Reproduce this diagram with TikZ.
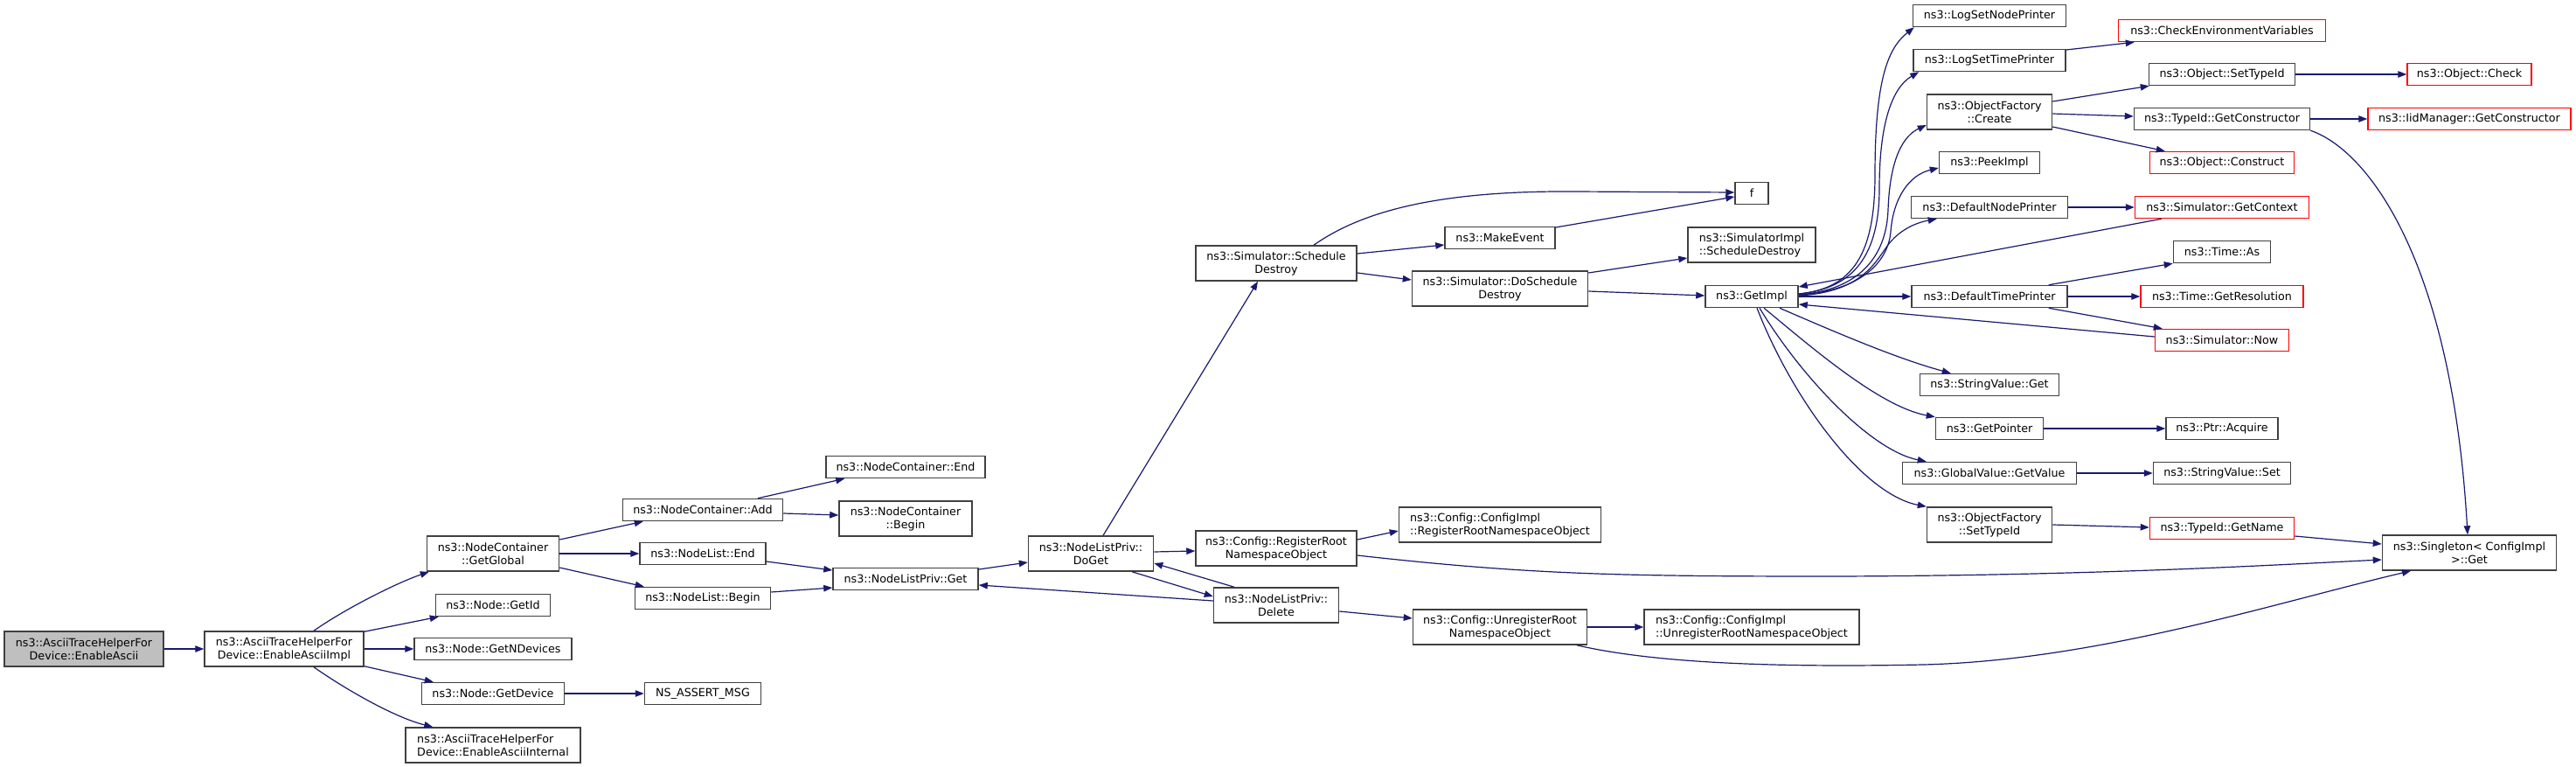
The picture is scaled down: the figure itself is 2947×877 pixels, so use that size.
\documentclass[tikz,border=0pt]{standalone}
\usepackage{fontspec}
\setmainfont{DejaVu Sans}
\usetikzlibrary{arrows.meta,calc}
\definecolor{edgeblue}{HTML}{191970}
\definecolor{bordergrey}{HTML}{404040}
\definecolor{rootgrey}{HTML}{BFBFBF}
\tikzset{
  fn/.style={draw=bordergrey, line width=1.5pt, fill=white, minimum height=25pt, inner sep=0pt, align=center, font=\fontsize{12.7}{15}\selectfont},
  twol/.style={minimum height=40pt},
  redfn/.style={fn, draw=red},
  rootfn/.style={fn, fill=rootgrey},
  lft/.style={align=left},
  call/.style={draw=edgeblue, line width=1.2pt, -{Triangle[length=10pt,width=7.5pt]}, fill=none},
}
\begin{document}
\begin{tikzpicture}[x=1pt,y=-1pt]
\fill[white] (0,0) rectangle (2947,877);
\useasboundingbox (0,0) rectangle (2947,877);
% column 1-2
\node[rootfn, twol, minimum width=182pt] (n1) at (96,742) {ns3::AsciiTraceHelperFor\\Device::EnableAscii};
\node[fn, twol, minimum width=182pt] (n2) at (325,742) {ns3::AsciiTraceHelperFor\\Device::EnableAsciiImpl};
% column 3
\node[fn, twol, minimum width=151pt] (GetGlobal) at (564,633) {ns3::NodeContainer\\::GetGlobal};
\node[fn, minimum width=131pt] (GetId) at (564,692) {ns3::Node::GetId};
\node[fn, minimum width=180pt] (GetNDevices) at (564,742) {ns3::Node::GetNDevices};
\node[fn, minimum width=163pt] (GetDevice) at (564,793) {ns3::Node::GetDevice};
\node[fn, twol, lft, minimum width=200pt] (Internal) at (564,852) {ns3::AsciiTraceHelperFor\\Device::EnableAsciiInternal};
% column 4
\node[fn, minimum width=183pt] (NCAdd) at (804,583) {ns3::NodeContainer::Add};
\node[fn, minimum width=144pt] (NLEnd) at (804,633) {ns3::NodeList::End};
\node[fn, minimum width=155pt] (NLBegin) at (804,684) {ns3::NodeList::Begin};
\node[fn, minimum width=133pt] (Assert) at (804,793) {NS\_ASSERT\_MSG};
% column 5
\node[fn, minimum width=182pt] (NCEnd) at (1036,534) {ns3::NodeContainer::End};
\node[fn, twol, minimum width=152pt] (NCBegin) at (1036,593) {ns3::NodeContainer\\::Begin};
\node[fn, minimum width=166pt] (NLPGet) at (1036,662) {ns3::NodeListPriv::Get};
% column 6
\node[fn, twol, minimum width=143pt] (DoGet) at (1248,633) {ns3::NodeListPriv::\\DoGet};
% column 7
\node[fn, twol, minimum width=184pt] (SchedDestroy) at (1460,301) {ns3::Simulator::Schedule\\Destroy};
\node[fn, twol, minimum width=184pt] (RegRoot) at (1460,627) {ns3::Config::RegisterRoot\\NamespaceObject};
\node[fn, twol, minimum width=143pt] (Delete) at (1460,692) {ns3::NodeListPriv::\\Delete};
% column 8
\node[fn, minimum width=126pt] (MakeEvent) at (1716,272) {ns3::MakeEvent};
\node[fn, twol, minimum width=201pt] (DoSched) at (1716,330) {ns3::Simulator::DoSchedule\\Destroy};
\node[fn, twol, lft, minimum width=231pt] (CIRegRoot) at (1716,600) {ns3::Config::ConfigImpl\\::RegisterRootNamespaceObject};
\node[fn, twol, minimum width=199pt] (UnregRoot) at (1716,717) {ns3::Config::UnregisterRoot\\NamespaceObject};
% column 9
\node[fn, minimum width=38pt] (f) at (2004,221) {f};
\node[fn, twol, lft, minimum width=146pt] (SimImplSD) at (2004,280) {ns3::SimulatorImpl\\::ScheduleDestroy};
\node[fn, minimum width=106pt] (GetImpl) at (2004,339) {ns3::GetImpl};
\node[fn, twol, lft, minimum width=246pt] (CIUnreg) at (2004,717) {ns3::Config::ConfigImpl\\::UnregisterRootNamespaceObject};
% column 10
\node[fn, minimum width=175pt] (LogNode) at (2276,18) {ns3::LogSetNodePrinter};
\node[fn, minimum width=174pt] (LogTime) at (2276,69) {ns3::LogSetTimePrinter};
\node[fn, twol, minimum width=143pt] (OFCreate) at (2276,128) {ns3::ObjectFactory\\::Create};
\node[fn, minimum width=115pt] (PeekImpl) at (2276,186) {ns3::PeekImpl};
\node[fn, minimum width=179pt] (DefNode) at (2276,237) {ns3::DefaultNodePrinter};
\node[fn, minimum width=178pt] (DefTime) at (2276,339) {ns3::DefaultTimePrinter};
\node[fn, minimum width=159pt] (SVGet) at (2276,440) {ns3::StringValue::Get};
\node[fn, minimum width=123pt] (GetPointer) at (2276,490) {ns3::GetPointer};
\node[fn, minimum width=199pt] (GVGetValue) at (2276,541) {ns3::GlobalValue::GetValue};
\node[fn, twol, minimum width=143pt] (OFSetTypeId) at (2276,600) {ns3::ObjectFactory\\::SetTypeId};
% column 11
\node[redfn, minimum width=237pt] (CheckEnv) at (2542,35) {ns3::CheckEnvironmentVariables};
\node[fn, minimum width=167pt] (ObjSetTypeId) at (2542,85) {ns3::Object::SetTypeId};
\node[fn, minimum width=201pt] (GetCtor) at (2542,136) {ns3::TypeId::GetConstructor};
\node[redfn, minimum width=165pt] (ObjConstruct) at (2542,186) {ns3::Object::Construct};
\node[redfn, minimum width=199pt] (GetContext) at (2542,237) {ns3::Simulator::GetContext};
\node[fn, minimum width=111pt] (TimeAs) at (2542,288) {ns3::Time::As};
\node[redfn, minimum width=186pt] (GetRes) at (2542,339) {ns3::Time::GetResolution};
\node[redfn, minimum width=153pt] (SimNow) at (2542,389) {ns3::Simulator::Now};
\node[fn, minimum width=128pt] (PtrAcquire) at (2542,490) {ns3::Ptr::Acquire};
\node[fn, minimum width=157pt] (SVSet) at (2542,541) {ns3::StringValue::Set};
\node[redfn, minimum width=165pt] (GetName) at (2542,604) {ns3::TypeId::GetName};
% column 12
\node[redfn, minimum width=142pt] (ObjCheck) at (2825,85) {ns3::Object::Check};
\node[redfn, minimum width=232pt] (IidCtor) at (2825,136) {ns3::IidManager::GetConstructor};
\node[fn, twol, minimum width=199pt] (Singleton) at (2825,632) {ns3::Singleton< ConfigImpl\\>::Get};

% ---- edges ----
\draw[call] (n1) -- (n2);
\draw[call] ($(n2.north)+(34,0)$) .. controls (392,698) and (450,668) .. ($(GetGlobal.south west)+(3,0)$);
\draw[call] ($(n2.north east)+(0,1)$) -- ($(GetId.south west)+(4,0)$);
\draw[call] (n2) -- (GetNDevices);
\draw[call] ($(n2.south east)+(0,-1)$) -- ($(GetDevice.north west)+(14,0)$);
\draw[call] ($(n2.south)+(34,0)$) .. controls (392,786) and (450,820) .. ($(Internal.north west)+(32,0)$);
\draw[call] ($(GetGlobal.east)+(0,-16)$) -- ($(NCAdd.south west)+(24,0)$);
\draw[call] (GetGlobal) -- (NLEnd);
\draw[call] ($(GetGlobal.east)+(0,16)$) -- ($(NLBegin.north west)+(11,0)$);
\draw[call] ($(NCAdd.north)+(63,0)$) -- ($(NCEnd.south west)+(22,0)$);
\draw[call] ($(NCAdd.east)+(0,4)$) -- ($(NCBegin.west)+(0,-4)$);
\draw[call] ($(NLEnd.east)+(0,9)$) -- ($(NLPGet.west)+(0,-10)$);
\draw[call] ($(NLBegin.east)+(0,-7)$) -- ($(NLPGet.west)+(0,10)$);
\draw[call] (GetDevice) -- (Assert);
\draw[call] ($(NLPGet.east)+(0,-11)$) -- ($(DoGet.west)+(0,10)$);
\draw[call] ($(DoGet.north)+(14,0)$) -- ($(SchedDestroy.south)+(-21,0)$);
\draw[call] ($(DoGet.east)+(0,-2)$) -- ($(RegRoot.west)+(0,3)$);
\draw[call] ($(DoGet.south)+(47,0)$) -- ($(Delete.west)+(0,-10)$);
\draw[call] ($(Delete.north)+(-48,0)$) -- ($(DoGet.east)+(0,11)$);
\draw[call] ($(Delete.west)+(0,-5)$) -- ($(NLPGet.east)+(0,7)$);
\draw[call] ($(SchedDestroy.north)+(43,0)$) .. controls (1560,240) and (1650,218) .. (1800,219) -- ($(f.west)+(0,-1)$);
\draw[call] ($(SchedDestroy.east)+(0,-11)$) -- ($(MakeEvent.west)+(0,8)$);
\draw[call] ($(SchedDestroy.east)+(0,11)$) -- ($(DoSched.west)+(0,-10)$);
\draw[call] ($(MakeEvent.east)+(0,-12)$) -- ($(f.west)+(0,4)$);
\draw[call] ($(DoSched.east)+(0,-18)$) -- ($(SimImplSD.west)+(0,15)$);
\draw[call] ($(DoSched.east)+(0,3)$) -- ($(GetImpl.west)+(0,-1)$);
\draw[call] ($(RegRoot.east)+(0,-10)$) -- ($(CIRegRoot.west)+(0,7)$);
\draw[call] ($(RegRoot.east)+(0,8)$) .. controls (1750,657) and (1850,659) .. (2100,659) .. controls (2400,658) and (2600,646) .. ($(Singleton.west)+(0,8)$);
\draw[call] ($(Delete.east)+(0,7)$) -- ($(UnregRoot.west)+(0,-10)$);
\draw[call] (UnregRoot) -- (CIUnreg);
\draw[call] ($(UnregRoot.south)+(88,0)$) .. controls (1900,760) and (2050,763) .. (2200,760) .. controls (2400,755) and (2600,690) .. ($(Singleton.south)+(-67,0)$);
% GetImpl fan-out
\draw[call] ($(GetImpl.east)+(0,-3)$) .. controls (2120,330) and (2145,290) .. (2145,200) .. controls (2145,90) and (2160,55) .. ($(LogNode.south west)+(2,0)$);
\draw[call] ($(GetImpl.east)+(0,-3)$) .. controls (2122,330) and (2150,290) .. (2150,215) .. controls (2150,140) and (2165,100) .. ($(LogTime.south west)+(7,0)$);
\draw[call] ($(GetImpl.east)+(0,-2)$) .. controls (2125,332) and (2158,295) .. (2160,240) .. controls (2162,180) and (2178,155) .. ($(OFCreate.west)+(0,15)$);
\draw[call] ($(GetImpl.east)+(0,-2)$) .. controls (2128,333) and (2160,300) .. (2163,265) .. controls (2166,225) and (2185,200) .. ($(PeekImpl.west)+(0,6)$);
\draw[call] ($(GetImpl.east)+(0,-1)$) .. controls (2130,334) and (2145,300) .. (2160,280) .. controls (2172,264) and (2190,255) .. ($(DefNode.south west)+(30,0)$);
\draw[call] (GetImpl) -- (DefTime);
\draw[call] ($(GetImpl.south)+(32,0)$) .. controls (2100,380) and (2170,410) .. ($(SVGet.north west)+(36,0)$);
\draw[call] ($(GetImpl.south)+(14,0)$) .. controls (2070,395) and (2150,465) .. ($(GetPointer.north west)+(0,0)$);
\draw[call] ($(GetImpl.south)+(9,0)$) .. controls (2060,430) and (2140,515) .. ($(GVGetValue.north west)+(28,0)$);
\draw[call] ($(GetImpl.south)+(6,0)$) .. controls (2050,455) and (2130,565) .. ($(OFSetTypeId.north west)+(0,0)$);
% right part
\draw[call] ($(LogTime.east)+(0,-12)$) -- ($(CheckEnv.south west)+(19,0)$);
\draw[call] ($(OFCreate.east)+(0,-12)$) -- ($(ObjSetTypeId.south west)+(1,0)$);
\draw[call] ($(OFCreate.east)+(0,2)$) -- ($(GetCtor.west)+(0,-3)$);
\draw[call] ($(OFCreate.east)+(0,17)$) -- ($(ObjConstruct.north west)+(18,0)$);
\draw[call] (ObjSetTypeId) -- (ObjCheck);
\draw[call] (GetCtor) -- (IidCtor);
\draw[call] (GetCtor.south east) .. controls (2710,172) and (2805,300) .. ($(Singleton.north)+(-2,0)$);
\draw[call] (DefNode) -- (GetContext);
\draw[call] ($(GetContext.south west)+(31,0)$) -- ($(GetImpl.east)+(0,-11)$);
\draw[call] ($(DefTime.north east)+(-22,0)$) -- (TimeAs.south west);
\draw[call] (DefTime) -- (GetRes);
\draw[call] ($(DefTime.south east)+(-22,0)$) -- ($(SimNow.north west)+(9,0)$);
\draw[call] ($(SimNow.west)+(0,-4)$) -- ($(GetImpl.east)+(0,9)$);
\draw[call] (GetPointer) -- (PtrAcquire);
\draw[call] (GVGetValue) -- (SVSet);
\draw[call] ($(OFSetTypeId.east)+(0,0)$) -- ($(GetName.west)+(0,-1)$);
\draw[call] ($(GetName.east)+(0,9)$) -- ($(Singleton.west)+(0,-10)$);
\end{tikzpicture}
\end{document}
